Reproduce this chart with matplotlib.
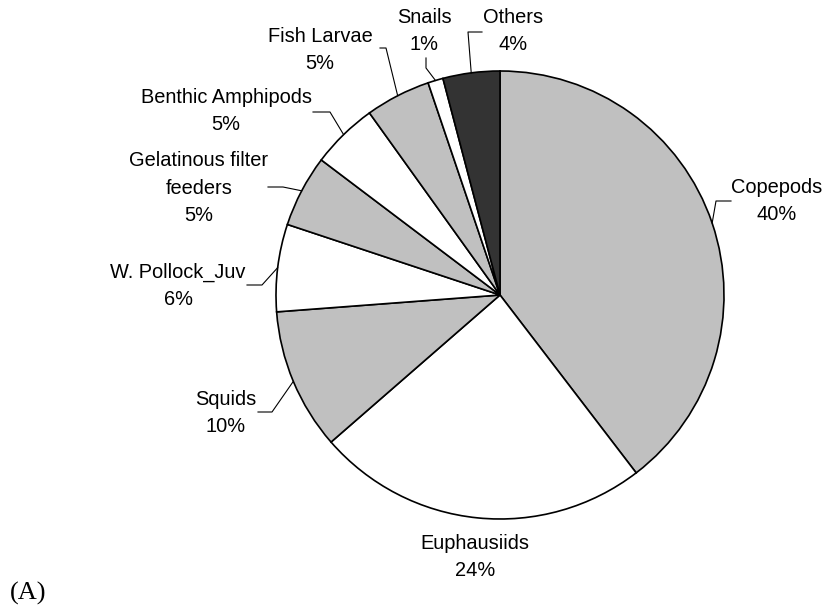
import math
from matplotlib import pyplot as plt

# diet composition (share of prey, %), clockwise from 12 o'clock
prey = ['Copepods', 'Euphausiids', 'Squids', 'W. Pollock_Juv',
        'Gelatinous filter\nfeeders', 'Benthic Amphipods', 'Fish Larvae',
        'Snails', 'Others']
share = [39.6, 24.0, 10.2, 6.3, 5.2, 4.8, 4.7, 1.1, 4.1]
fills = ['#C0C0C0', 'white', '#C0C0C0', 'white', '#C0C0C0', 'white',
         '#C0C0C0', 'white', '#333333']

W, H = 822, 609

def Y(y):  # pixel row (top down) -> data y
    return H - y

# label placement in pixels: text centre, leader elbow, leader end
label_pos = [(777, 201), (475, 557), (226, 413), (178, 286), (199, 188),
             (226, 111), (320, 50), (424, 31), (513, 31)]
leaders = [((716, 201), (731, 201)), None, ((272, 412), (258, 412)),
           ((262, 285), (247, 285)), ((283, 187), (268, 187)),
           ((330, 112), (313, 112)), ((386, 48), (380, 48)),
           ((426, 68), (426, 58)), ((468, 32), (482, 32))]

fig = plt.figure(figsize=(W / 100, H / 100), dpi=100)
ax = fig.add_axes([0, 0, 1, 1])

cx, cy, r = 500, 295, 224
wedges, _ = ax.pie(share, colors=fills, startangle=90, counterclock=False,
                   center=(cx, Y(cy)), radius=r,
                   wedgeprops=dict(edgecolor='black', linewidth=1.2))

total = sum(share)
for i, w in enumerate(wedges):
    pct = share[i] / total * 100
    tx, ty = label_pos[i]
    ax.text(tx, Y(ty), prey[i] + '\n' + '%.0f%%' % pct, ha='center', va='center',
            fontsize=14.4, family='Liberation Sans', linespacing=1.55)
    if leaders[i] is not None:
        mid = math.radians((w.theta1 + w.theta2) / 2)
        sx = cx + r * math.cos(mid)
        sy = Y(cy) + r * math.sin(mid)
        (ex, ey), (fx, fy) = leaders[i]
        ax.plot([sx, ex, fx], [sy, Y(ey), Y(fy)], color='black', linewidth=0.8)

ax.text(28, Y(593), '(A)', ha='center', va='center', fontsize=19,
        family='Liberation Serif')

ax.set_xlim(0, W)
ax.set_ylim(0, H)
ax.set_aspect('equal')
ax.axis('off')

fig.savefig('out.png', dpi=100)
